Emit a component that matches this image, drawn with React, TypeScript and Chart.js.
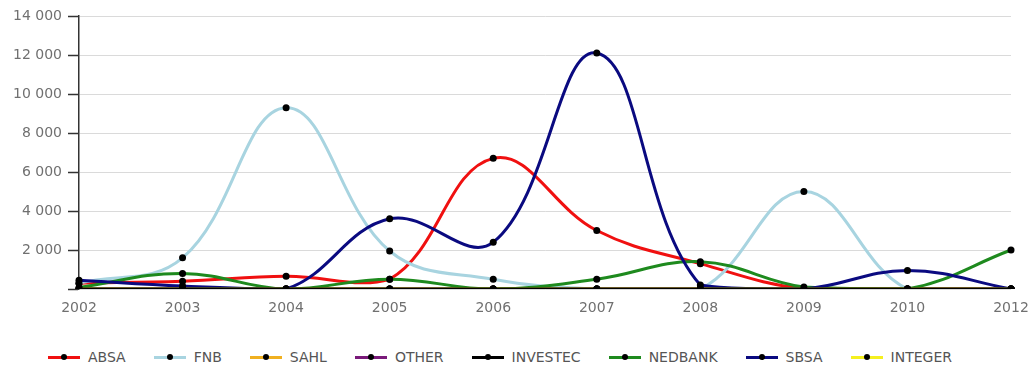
import React, { useEffect, useRef } from "react";
import { Chart, registerables } from "chart.js";

Chart.register(...registerables);

const years = ["2002", "2003", "2004", "2005", "2006", "2007", "2008", "2009", "2010", "2012"];

const absa = [300, 400, 650, 500, 6700, 3000, 1300, 0, 0, 0];
const fnb = [300, 1600, 9300, 1950, 500, 0, 0, 5000, 0, 0];
const sahl = [0, 0, 0, 0, 0, 0, 0, 0, 0, 0];
const other = [0, 0, 0, 0, 0, 0, 0, 0, 0, 0];
const investec = [0, 0, 0, 0, 0, 0, 0, 0, 0, 0];
const nedbank = [80, 800, 0, 500, 0, 500, 1400, 100, 0, 2000];
const sbsa = [450, 150, 0, 3600, 2400, 12100, 200, 0, 950, 0];
const integer = [0, 0, 0, 0, 0, 0, 0, 0, 0, 0];

const yTicks = [0, 2000, 4000, 6000, 8000, 10000, 12000, 14000];

type Series = { label: string; color: string; data: number[]; layer: number };

// layer: higher numbers are painted first (underneath)
const series: Series[] = [
  { label: "ABSA", color: "#f01010", data: absa, layer: 8 },
  { label: "FNB", color: "#a8d4e0", data: fnb, layer: 7 },
  { label: "SAHL", color: "#f0b020", data: sahl, layer: 6 },
  { label: "OTHER", color: "#7a1a7a", data: other, layer: 5 },
  { label: "INVESTEC", color: "#000000", data: investec, layer: 1 },
  { label: "NEDBANK", color: "#1e8a1e", data: nedbank, layer: 4 },
  { label: "SBSA", color: "#0a0a80", data: sbsa, layer: 3 },
  { label: "INTEGER", color: "#f5f020", data: integer, layer: 2 },
];

const FONT = "'DejaVu Sans', Verdana, sans-serif";

function formatThousands(v: number): string {
  return String(v).replace(/\B(?=(\d{3})+(?!\d))/g, " ");
}

export default function App() {
  const canvasRef = useRef<HTMLCanvasElement | null>(null);

  useEffect(() => {
    const canvas = canvasRef.current;
    if (!canvas) return;
    const chart = new Chart(canvas, {
      type: "line",
      data: {
        labels: years,
        datasets: series.map((s) => ({
          label: s.label,
          data: s.data,
          borderColor: s.color,
          backgroundColor: s.color,
          borderWidth: 3,
          tension: 0.4,
          pointRadius: 3.5,
          pointBackgroundColor: "#000",
          pointBorderWidth: 0,
          order: s.layer,
          fill: false,
        })),
      },
      options: {
        responsive: false,
        animation: false,
        devicePixelRatio: 1,
        layout: { padding: { top: 16, right: 18, left: 0, bottom: 0 } },
        plugins: {
          legend: { display: false },
          tooltip: { enabled: false },
        },
        scales: {
          x: {
            grid: { display: false, drawTicks: false },
            border: { display: false },
            ticks: {
              color: "#707070",
              font: { family: FONT, size: 14 },
              padding: 11,
              maxRotation: 0,
              autoSkip: false,
            },
            afterFit: (scale: any) => {
              scale.height = 41;
              scale.paddingLeft = 0;
              scale.paddingRight = 0;
            },
          },
          y: {
            min: yTicks[0],
            max: yTicks[yTicks.length - 1],
            afterBuildTicks: (scale: any) => {
              scale.ticks = yTicks.map((v) => ({ value: v }));
            },
            grid: {
              color: "#dadada",
              lineWidth: 1,
              drawTicks: true,
              tickLength: 11,
              tickColor: "#333",
              tickWidth: 1.5,
            },
            border: { display: true, color: "#333", width: 1.5 },
            ticks: {
              color: "#707070",
              font: { family: FONT, size: 14 },
              padding: 6,
              callback: (v: any) => (Number(v) === 0 ? "" : formatThousands(Number(v))),
            },
            afterFit: (scale: any) => {
              scale.width = 79;
            },
          },
        },
      },
    });
    return () => chart.destroy();
  }, []);

  return (
    <div style={{ position: "absolute", left: 0, top: 0, width: 1029, height: 371, background: "#fff" }}>
      <canvas ref={canvasRef} width={1029} height={330} style={{ display: "block" }} />
      <div
        style={{
          position: "absolute",
          left: 48,
          top: 348,
          display: "flex",
          alignItems: "center",
          gap: 28,
          fontFamily: FONT,
          fontSize: 14,
          color: "#555",
        }}
      >
        {series.map((s) => (
          <div key={s.label} style={{ display: "flex", alignItems: "center", gap: 8 }}>
            <div style={{ position: "relative", width: 32, height: 3, background: s.color }}>
              <div
                style={{
                  position: "absolute",
                  left: 13,
                  top: -2,
                  width: 6,
                  height: 6,
                  borderRadius: 3,
                  background: "#000",
                }}
              />
            </div>
            <span style={{ lineHeight: "18px" }}>{s.label}</span>
          </div>
        ))}
      </div>
    </div>
  );
}
